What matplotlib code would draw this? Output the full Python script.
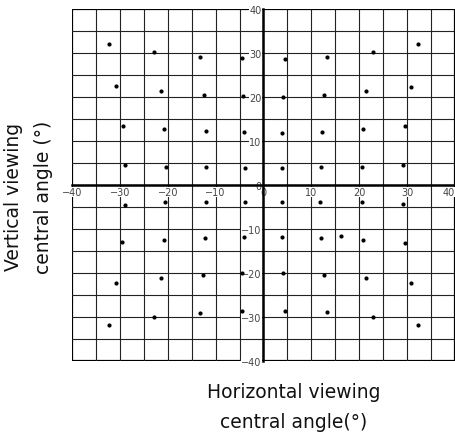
import matplotlib
matplotlib.use("Agg")
import matplotlib.pyplot as plt
import numpy as np

# Measured viewing-angle points (horizontal, vertical), degrees
x_vals = [
    -32.3, -22.9, -13.3, -4.5,
    -30.8, -21.5, -12.5, -4.2,
    -29.4, -20.8, -12.1, -4.0,
    -29.0, -20.4, -12.1, -3.9,
    4.5, 13.3, 22.8, 32.3,
    4.1, 12.6, 21.5, 30.8,
    3.8, 12.2, 20.8, 29.5,
    3.8, 12.0, 20.5, 29.1,
    -29.0, -20.5, -12.0, -3.9,
    -29.5, -20.8, -12.2, -4.0,
    -30.8, -21.5, -12.6, -4.4,
    -32.3, -22.9, -13.3, -4.5,
    3.8, 11.9, 20.5, 29.1,
    3.8, 12.1, 16.25, 20.8, 29.5,
    4.1, 12.6, 21.5, 30.8,
    4.5, 13.3, 22.8, 32.3,
]
y_vals = [
    32.0, 30.3, 29.2, 28.8,
    22.5, 21.4, 20.5, 20.2,
    13.3, 12.7, 12.2, 12.0,
    4.6, 4.2, 4.1, 3.9,
    28.7, 29.0, 30.2, 32.0,
    20.1, 20.5, 21.3, 22.3,
    11.9, 12.1, 12.7, 13.3,
    3.9, 4.0, 4.0, 4.5,
    -4.5, -3.9, -3.9, -3.9,
    -13.0, -12.5, -12.0, -11.8,
    -22.3, -21.2, -20.4, -20.1,
    -31.8, -30.1, -29.0, -28.6,
    -3.8, -3.9, -3.9, -4.3,
    -11.8, -12.0, -11.5, -12.6, -13.1,
    -20.0, -20.5, -21.2, -22.3,
    -28.6, -28.9, -30.1, -31.9,
]
tick_values = [-40, -30, -20, -10, 0, 10, 20, 30, 40]
grid_values = list(range(-40, 45, 5))
x_label = "Horizontal viewing\ncentral angle(°)"
y_label = "Vertical viewing\ncentral angle (°)"

fig = plt.figure(figsize=(4.56, 4.39), dpi=100)
ax = fig.add_axes([72 / 456, 77 / 439, 383 / 456, 352 / 439])
ax.set_xlim(-40, 40)
ax.set_ylim(-40, 40)

for g in grid_values:
    lw = 1.6 if abs(g) == 40 else 0.8
    col = "black" if abs(g) == 40 else "#222222"
    ax.axvline(g, color=col, lw=lw, zorder=0.5)
    ax.axhline(g, color=col, lw=lw, zorder=0.5)

ax.scatter(x_vals, y_vals, s=9, color="black", zorder=4, linewidths=0)

for side in ("top", "right"):
    ax.spines[side].set_visible(False)
ax.spines["left"].set_position("zero")
ax.spines["bottom"].set_position("zero")
ax.spines["left"].set_linewidth(1.8)
ax.spines["bottom"].set_linewidth(1.8)
ax.spines["left"].set_zorder(3)
ax.spines["bottom"].set_zorder(3)

ax.set_xticks(tick_values)
ax.set_yticks(tick_values)
ax.tick_params(axis="both", length=0, labelsize=7, labelcolor="#444444")
ax.tick_params(axis="x", pad=1.5)
ax.tick_params(axis="y", pad=1.5)
ax.xaxis.set_zorder(2)
ax.yaxis.set_zorder(2)
for lab in ax.get_xticklabels() + ax.get_yticklabels():
    lab.set_bbox(dict(facecolor="white", edgecolor="none", pad=0.3))
ax.get_xticklabels()[-1].set_horizontalalignment("right")

fig.text(0.0625, 0.551, y_label, rotation=90, ha="center", va="center",
         fontsize=13.5, linespacing=1.75, color="#111111")
fig.text(0.645, 0.072, x_label, ha="center", va="center",
         fontsize=13.5, linespacing=1.75, color="#111111")

fig.savefig("out.png", dpi=100)
